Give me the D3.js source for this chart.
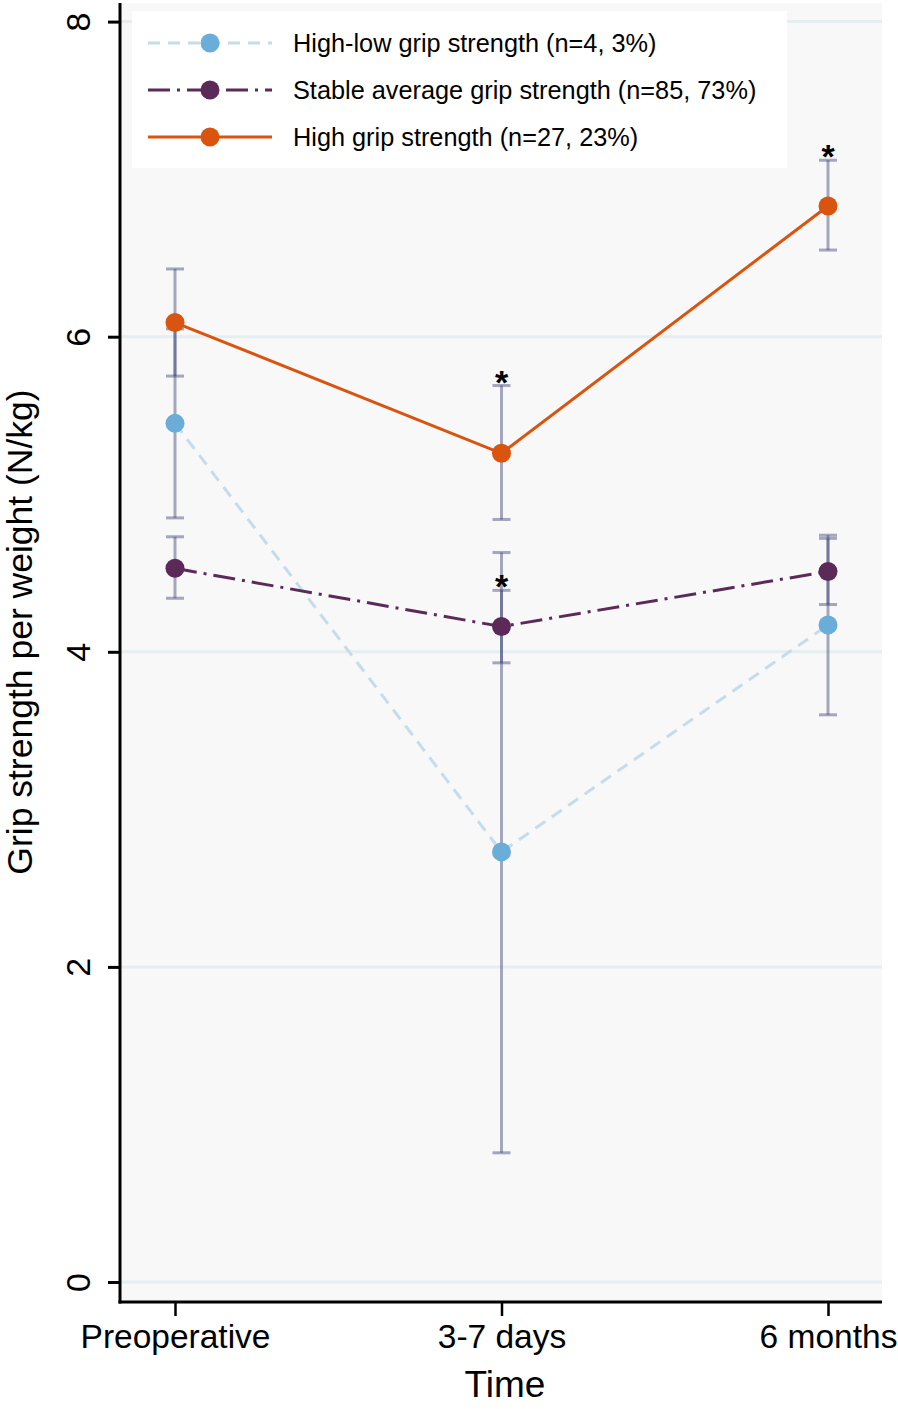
<!DOCTYPE html>
<html><head><meta charset="utf-8">
<script src="https://cdn.jsdelivr.net/npm/d3@7"></script>
<style>body{margin:0;background:#fff}svg{display:block;font-family:"Liberation Sans",Arial,Helvetica,sans-serif}</style>
</head><body><svg id="c" width="898" height="1409"></svg>
<script>
const categories = ["Preoperative", "3-7 days", "6 months"];
const yTicks = [0, 2, 4, 6, 8];
const seriesNames = ["High-low grip strength (n=4, 3%)", "Stable average grip strength (n=85, 73%)", "High grip strength (n=27, 23%)"];
const highLowMean = [5.45, 2.73, 4.17];
const highLowLo = [4.85, 0.82, 3.60];
const highLowHi = [6.05, 4.63, 4.74];
const stableMean = [4.53, 4.16, 4.51];
const stableLo = [4.34, 3.93, 4.30];
const stableHi = [4.73, 4.39, 4.72];
const highMean = [6.09, 5.26, 6.83];
const highLo = [5.75, 4.84, 6.55];
const highHi = [6.43, 5.69, 7.12];
const highSig = [false, true, true];
const stableSig = [false, true, false];

const series = [
  {name: seriesNames[0], mean: highLowMean, lo: highLowLo, hi: highLowHi, sig: [false,false,false], line: "#c4dceb", dot: "#69add8", dash: "12,8"},
  {name: seriesNames[1], mean: stableMean, lo: stableLo, hi: stableHi, sig: stableSig, line: "#5c2a58", dot: "#5c2a58", dash: "22,7,3,7"},
  {name: seriesNames[2], mean: highMean, lo: highLo, hi: highHi, sig: highSig, line: "#d9540f", dot: "#d9540f", dash: null}
];

const svg = d3.select("#c");
const pL = 120, pR = 882, pT = 3, pB = 1302;
const x = d3.scalePoint().domain(categories).range([175, 828]);
const y = d3.scaleLinear().domain([0, 8]).range([1282, 21.6]);

svg.append("rect").attr("x", pL).attr("y", pT).attr("width", pR - pL).attr("height", pB - pT).attr("fill", "#f8f8f8");

// grid
svg.append("g").selectAll("line").data(yTicks).join("line")
  .attr("x1", pL).attr("x2", pR).attr("y1", d => y(d)).attr("y2", d => y(d))
  .attr("stroke", "#e5eef0").attr("stroke-width", 3);

// axes
const yAxis = svg.append("g").attr("transform", `translate(${pL},0)`)
  .call(d3.axisLeft(y).tickValues(yTicks).tickSize(12).tickPadding(18).tickFormat(d3.format("d")));
yAxis.select(".domain").remove();
yAxis.selectAll(".tick line").attr("stroke", "#000").attr("stroke-width", 3);
yAxis.selectAll(".tick text").attr("font-size", 34).attr("fill", "#000")
  .attr("text-anchor", "middle").attr("dy", null)
  .attr("transform", "translate(-42,0) rotate(-90)")
  .attr("x", 0).attr("y", 0).attr("dominant-baseline", "central");

const xAxis = svg.append("g").attr("transform", `translate(0,${pB})`)
  .call(d3.axisBottom(x).tickSize(14).tickPadding(8));
xAxis.select(".domain").remove();
xAxis.selectAll(".tick line").attr("stroke", "#000").attr("stroke-width", 2.5);
xAxis.selectAll(".tick text").attr("font-size", 33.5).attr("fill", "#000").attr("dy", null).attr("y", 46);

svg.append("line").attr("x1", pL).attr("x2", pL).attr("y1", pT).attr("y2", pB + 1.5).attr("stroke", "#000").attr("stroke-width", 3);
svg.append("line").attr("x1", pL - 1.5).attr("x2", pR).attr("y1", pB).attr("y2", pB).attr("stroke", "#000").attr("stroke-width", 3);

svg.append("text").attr("transform", "translate(32,632) rotate(-90)").attr("text-anchor", "middle")
  .attr("font-size", 35.5).text("Grip strength per weight (N/kg)");
svg.append("text").attr("x", 505).attr("y", 1397).attr("text-anchor", "middle").attr("font-size", 37).text("Time");

// legend
svg.append("rect").attr("x", 132).attr("y", 11).attr("width", 655).attr("height", 157).attr("fill", "#fff");
const lg = svg.append("g").selectAll("g").data(series).join("g")
  .attr("transform", (d, i) => `translate(0,${43 + i * 47})`);
lg.append("line").attr("x1", 148).attr("x2", 272).attr("stroke", d => d.line).attr("stroke-width", 3)
  .attr("stroke-dasharray", d => d.dash);
lg.append("circle").attr("cx", 210).attr("r", 9.5).attr("fill", d => d.dot);
lg.append("text").attr("x", 293).attr("y", 9).attr("font-size", 25.3).text(d => d.name);

// error bars
const eb = svg.append("g");
series.forEach(s => {
  const g = eb.append("g").attr("stroke", "rgb(60,66,115)").attr("stroke-opacity", 0.45).attr("stroke-width", 3);
  categories.forEach((c, i) => {
    g.append("line").attr("x1", x(c)).attr("x2", x(c)).attr("y1", y(s.lo[i])).attr("y2", y(s.hi[i]));
    [s.lo[i], s.hi[i]].forEach(v => g.append("line").attr("x1", x(c) - 9).attr("x2", x(c) + 9).attr("y1", y(v)).attr("y2", y(v)));
  });
});

// lines and markers
const line = d3.line().x((d, i) => x(categories[i])).y(d => y(d));
series.forEach(s => {
  svg.append("path").attr("d", line(s.mean)).attr("fill", "none").attr("stroke", s.line).attr("stroke-width", 3)
    .attr("stroke-dasharray", s.dash);
});
series.forEach(s => {
  svg.append("g").selectAll("circle").data(s.mean).join("circle")
    .attr("cx", (d, i) => x(categories[i])).attr("cy", d => y(d)).attr("r", 9.5).attr("fill", s.dot);
  svg.append("g").selectAll("text").data(s.mean.map((d, i) => ({i, hi: s.hi[i], sig: s.sig[i]})).filter(d => d.sig)).join("text")
    .attr("x", d => x(categories[d.i])).attr("y", d => y(d.hi) + 8).attr("text-anchor", "middle")
    .attr("font-size", 34).attr("font-weight", "bold").text("*");
});
</script></body></html>
